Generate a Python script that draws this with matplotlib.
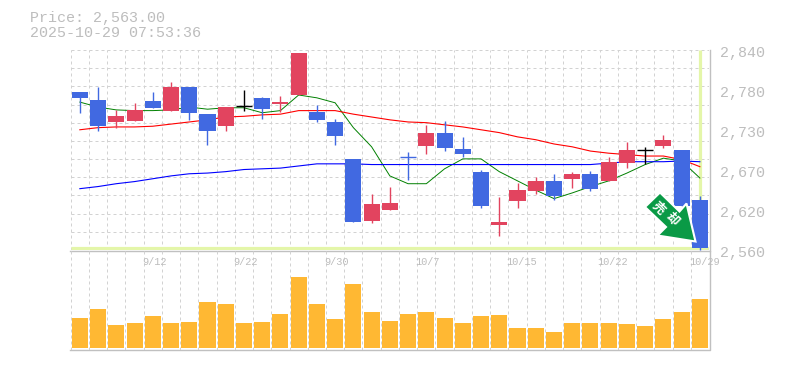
"""
Candlestick chart with moving averages and a volume panel, pixel laid out
on a 785x370 canvas.
"""
import matplotlib
matplotlib.use('Agg')
import matplotlib.pyplot as plt
from matplotlib.patches import Polygon, Rectangle

W, H = 785, 370
DPI = 100

# price panel limits
P_TOP, P_BOT = 2841.4, 2559.6
MONO = ['Liberation Mono', 'DejaVu Sans Mono']

opens = [2782, 2771, 2740, 2742, 2770, 2756, 2789, 2751, 2735, 2762, 2774, 2765, 2778,
         2754, 2740, 2688, 2601, 2616, 2691, 2706, 2725, 2702, 2670, 2595, 2629, 2643,
         2657, 2660, 2666, 2657, 2682, 2701, 2706, 2701, 2630]
closes = [2774, 2735, 2749, 2757, 2760, 2789, 2753, 2727, 2761, 2762, 2758, 2768, 2837,
          2743, 2720, 2599, 2625, 2626, 2691, 2725, 2704, 2695, 2622, 2599, 2644, 2657,
          2636, 2666, 2646, 2684, 2701, 2701, 2715, 2622, 2563]
highs = [2782, 2789, 2757, 2767, 2782, 2796, 2789, 2751, 2761, 2785, 2775, 2777, 2837,
         2764, 2744, 2688, 2639, 2649, 2697, 2736, 2742, 2719, 2673, 2634, 2654, 2663,
         2667, 2670, 2671, 2691, 2712, 2705, 2722, 2701, 2635]
lows = [2753, 2727, 2732, 2742, 2760, 2756, 2743, 2708, 2727, 2756, 2744, 2754, 2778,
        2740, 2708, 2599, 2598, 2616, 2658, 2695, 2699, 2691, 2619, 2580, 2619, 2639,
        2630, 2647, 2643, 2657, 2675, 2681, 2704, 2622, 2559]

ma_short = [2768, 2761, 2757, 2756, 2756, 2757, 2761, 2758, 2760, 2760, 2753, 2756, 2778,
            2774, 2767, 2732, 2705, 2664, 2653, 2653, 2674, 2688, 2688, 2670, 2657, 2644,
            2632, 2640, 2649, 2657, 2668, 2680, 2689, 2685, 2661]
ma_mid = [2729, 2732, 2733, 2733, 2734, 2737, 2740, 2743, 2747, 2748, 2750, 2751, 2756,
          2756, 2756, 2751, 2747, 2743, 2740, 2739, 2736, 2733, 2729, 2725, 2719, 2715,
          2709, 2705, 2699, 2696, 2694, 2692, 2692, 2687, 2677]
ma_long = [2646, 2649, 2653, 2656, 2660, 2664, 2667, 2668, 2670, 2673, 2674, 2675, 2678,
           2681, 2681, 2681, 2680, 2680, 2680, 2680, 2680, 2680, 2680, 2680, 2680, 2680,
           2680, 2680, 2680, 2682, 2684, 2684, 2684, 2685, 2684]

# bar heights, no scale is printed for them
volumes = [30, 39, 23, 25, 32, 25, 26, 46, 44, 25, 26, 34, 71, 44, 29, 64, 36, 27,
           34, 36, 30, 25, 32, 33, 20, 20, 16, 25, 25, 25, 24, 22, 29, 36, 49]

date_pos = [4, 9, 14, 19, 24, 29, 34]
date_labels = ['9/12', '9/22', '9/30', '10/7', '10/15', '10/22', '10/29']
price_labels = ['2,840', '2,780', '2,730', '2,670', '2,620', '2,560']
black_days = [9, 31]

UP = '#e2445f'
DOWN = '#4169e1'
GRID = '#d2d2d2'
FRAME = '#c0c0c0'
TEXT = '#bdbdbd'
CROSS = '#e4f6a9'
BAR = '#ffb833'
ARROW = '#0a9a46'


def axes_px(fig, left, top, right, bottom):
    ax = fig.add_axes([left / W, 1 - bottom / H, (right - left) / W, (bottom - top) / H])
    ax.patch.set_alpha(0)
    ax.set_xticks([])
    ax.set_yticks([])
    for s in ax.spines.values():
        s.set_visible(False)
    return ax


def draw_grid(ax, rows):
    for i in range(len(opens) + 1):
        ax.axvline(i - 0.5, color=GRID, lw=0.72, dashes=(3, 3), zorder=0)
    for r in rows:
        ax.axhline(r, color=GRID, lw=0.72, dashes=(3, 3), zorder=0)


fig = plt.figure(figsize=(W / DPI, H / DPI), dpi=DPI, facecolor='white')

# frame lines
frame = fig.add_axes([0, 0, 1, 1], zorder=-1)
frame.set_xlim(0, W)
frame.set_ylim(H, 0)
frame.axis('off')
frame.plot([70, 710, 710, 70], [250.5, 250.5, 350, 350], color=FRAME, lw=1.0)
frame.plot([710, 710], [50, 250.5], color=FRAME, lw=1.0)

# price panel
ax = axes_px(fig, 70.7, 50, 709, 250)
ax.set_xlim(-0.5, len(opens) - 0.5)
ax.set_ylim(P_BOT, P_TOP)
step = (P_TOP - P_BOT) / 11
draw_grid(ax, [P_BOT + step * i for i in range(12)])

last = len(opens) - 1
ax.plot([last, last], [closes[-1], P_TOP], color=CROSS, lw=2.3, zorder=1, solid_capstyle='butt')
ax.plot([-0.5, last + 0.55], [closes[-1], closes[-1]], color=CROSS, lw=2.3, zorder=1,
        solid_capstyle='butt')

xs = range(len(opens))
ax.plot(xs, ma_short, color='#008000', lw=0.7, zorder=2)
ax.plot(xs, ma_mid, color='#ff0000', lw=0.8, zorder=2)
ax.plot(xs, ma_long, color='#0000ff', lw=0.8, zorder=2)

for i in xs:
    o, c = opens[i], closes[i]
    col = 'black' if i in black_days else (DOWN if c <= o else UP)
    ax.plot([i, i], [lows[i], highs[i]], color=col, lw=1.0, zorder=3, solid_capstyle='butt',
            clip_on=False)
    if abs(c - o) < 2:
        ax.plot([i - 0.44, i + 0.44], [o, o], color=col, lw=1.0, zorder=3, solid_capstyle='butt')
    else:
        ax.add_patch(Rectangle((i - 0.44, min(o, c)), 0.88, abs(c - o), facecolor=col,
                               edgecolor='none', zorder=3))

# signal arrow, laid out in canvas pixels
arrow_px = [(660, 192.5), (645, 207), (666, 227), (657.5, 235.5), (695.5, 241.5),
            (686.5, 203.5), (679.5, 211.5)]
arrow_fig = [(x / W, 1 - y / H) for x, y in arrow_px]
fig.add_artist(Polygon(arrow_fig, closed=True, transform=fig.transFigure, facecolor=ARROW,
                       edgecolor='white', lw=1.5, joinstyle='miter', zorder=5))
for ch, cx, cy in [('売', 658.7, 208), ('却', 672, 219)]:
    fig.text(cx / W, 1 - cy / H, ch, rotation=-45, rotation_mode='anchor', ha='center',
             va='center', color='white', fontsize=9, fontweight='bold',
             family=['Noto Sans CJK JP', 'DejaVu Sans'], zorder=6)

# volume panel
vx = axes_px(fig, 70.7, 250, 709, 350)
vx.set_xlim(-0.5, len(opens) - 0.5)
vx.set_ylim(-2, 98)
draw_grid(vx, [])
vx.bar(xs, volumes, width=0.88, color=BAR, zorder=2)

# text
fig.text(30 / W, 1 - 18 / H, 'Price: 2,563.00', color=TEXT, fontsize=10.8, family=MONO,
         va='center')
fig.text(30 / W, 1 - 33 / H, '2025-10-29 07:53:36', color=TEXT, fontsize=10.8, family=MONO,
         va='center')
for i, lab in enumerate(price_labels):
    fig.text(720 / W, 1 - (53 + 40 * i) / H, lab, color=TEXT, fontsize=10.8, family=MONO,
             va='center')
for pos, lab in zip(date_pos, date_labels):
    x_px = 70.7 + (pos + 0.5) * (709 - 70.7) / len(opens)
    fig.text((x_px - 11) / W, 1 - 262 / H, lab, color=TEXT, fontsize=7.4, family=MONO,
             va='center')

fig.savefig('out.png', dpi=DPI, facecolor='white')
